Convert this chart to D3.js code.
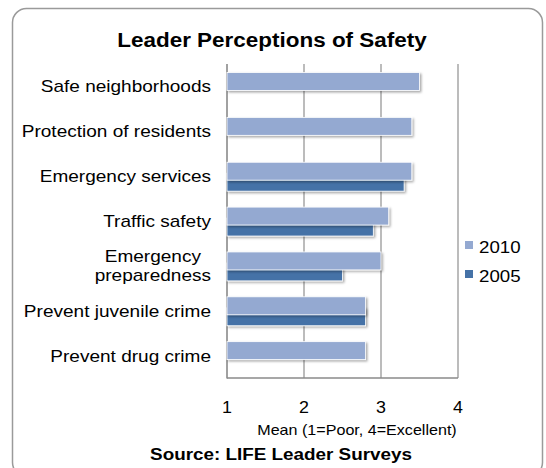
<!DOCTYPE html>
<html>
<head>
<meta charset="utf-8">
<script src="https://cdn.jsdelivr.net/npm/d3@7"></script>
<style>
  body { margin: 0; background: #fff; }
  text { font-family: "Liberation Sans", Arial, sans-serif; fill: #000; }
</style>
</head>
<body>
<div id="chart"></div>
<script>
// Chart data
var categories = ["Safe neighborhoods", "Protection of residents", "Emergency services",
    "Traffic safety", "Emergency\npreparedness", "Prevent juvenile crime", "Prevent drug crime"];
var values2010 = [3.5, 3.4, 3.4, 3.1, 3.0, 2.8, 2.8];
var values2005 = [null, null, 3.3, 2.9, 2.5, 2.8, null];
var seriesNames = ["2010", "2005"];
var xTicks = [1, 2, 3, 4];

var width = 546, height = 468;
var colors = {"2010": "#94a9d1", "2005": "#4572a7"};

var svg = d3.select("#chart").append("svg")
    .attr("width", width)
    .attr("height", height);

// the original text is rendered a bit wide, so stretch it horizontally
function wideText(parent, x, y, anchor, size, sx) {
    return parent.append("g")
        .attr("transform", "translate(" + x + "," + y + ") scale(" + sx + ",1)")
        .append("text")
        .attr("text-anchor", anchor)
        .style("font-size", size + "px");
}

// drop shadow for bars
var defs = svg.append("defs");
var filt = defs.append("filter").attr("id", "shadow")
    .attr("x", "-5%").attr("y", "-20%").attr("width", "115%").attr("height", "160%");
filt.append("feDropShadow")
    .attr("dx", 1.5).attr("dy", 1.5)
    .attr("stdDeviation", 0.8)
    .attr("flood-color", "#000")
    .attr("flood-opacity", 0.35);

// outer frame (bottom runs past the picture)
svg.append("rect")
    .attr("x", 12.5).attr("y", 8.5)
    .attr("width", 530).attr("height", 468)
    .attr("rx", 14).attr("ry", 14)
    .attr("fill", "#fff")
    .attr("stroke", "#9a9a9a")
    .attr("stroke-width", 1.5);

wideText(svg, 272, 47, "middle", 21, 1.07)
    .style("font-weight", "bold")
    .text("Leader Perceptions of Safety");

var x = d3.scaleLinear().domain([1, 4]).range([227, 458]);
var y = d3.scaleBand().domain(categories).range([64, 378]);
var bw = y.bandwidth();

// gridlines
svg.append("g").selectAll("line")
    .data(xTicks.slice(1))
    .enter().append("line")
    .attr("x1", function(d) { return x(d); })
    .attr("x2", function(d) { return x(d); })
    .attr("y1", 64).attr("y2", 378)
    .attr("stroke", "#8f8f8f")
    .attr("stroke-width", 1.2);

// axis lines
svg.append("line")
    .attr("x1", x(1)).attr("x2", x(1))
    .attr("y1", 64).attr("y2", 378.5)
    .attr("stroke", "#8a8a8a").attr("stroke-width", 1.6);
svg.append("line")
    .attr("x1", x(1)).attr("x2", x(4))
    .attr("y1", 378).attr("y2", 378)
    .attr("stroke", "#8a8a8a").attr("stroke-width", 1.6);

// bars: 2005 first, 2010 drawn over it
var bars = svg.append("g");
bars.selectAll("rect.s2005")
    .data(categories.map(function(c, i) { return {c: c, v: values2005[i]}; })
        .filter(function(d) { return d.v != null; }))
    .enter().append("rect")
    .attr("class", "s2005")
    .attr("x", x(1))
    .attr("y", function(d) { return y(d.c) + bw * 0.435; })
    .attr("width", function(d) { return x(d.v) - x(1); })
    .attr("height", bw * 0.4)
    .attr("fill", colors["2005"])
    .attr("stroke", "#fff").attr("stroke-width", 0.8)
    .attr("filter", "url(#shadow)");

bars.selectAll("rect.s2010")
    .data(categories.map(function(c, i) { return {c: c, v: values2010[i]}; }))
    .enter().append("rect")
    .attr("class", "s2010")
    .attr("x", x(1))
    .attr("y", function(d) { return y(d.c) + bw * 0.19; })
    .attr("width", function(d) { return x(d.v) - x(1); })
    .attr("height", bw * 0.4)
    .attr("fill", colors["2010"])
    .attr("stroke", "#fff").attr("stroke-width", 0.8)
    .attr("filter", "url(#shadow)");

// category labels, right aligned, multi-line blocks centred within themselves
var labelRight = 211;
categories.forEach(function(c) {
    var lines = c.split("\n");
    var lineH = 19;
    var cy = y(c) + bw / 2;
    var t = wideText(svg, labelRight, cy + 6, "middle", 17, 1.12);
    var spans = lines.map(function(l, i) {
        return t.append("tspan")
            .attr("y", (i - (lines.length - 1) / 2) * lineH)
            .text(l);
    });
    var w = d3.max(spans, function(s) { return s.node().getComputedTextLength(); });
    spans.forEach(function(s) { s.attr("x", -w / 2); });
});

// tick labels
xTicks.forEach(function(d) {
    wideText(svg, x(d), 413, "middle", 17, 1.05).text(d);
});

wideText(svg, 357, 435, "middle", 14, 1.15)
    .text("Mean (1=Poor, 4=Excellent)");

wideText(svg, 281, 460, "middle", 17, 1.11)
    .style("font-weight", "bold")
    .text("Source:  LIFE Leader Surveys");

// legend
var legend = svg.append("g").selectAll("g")
    .data(seriesNames)
    .enter().append("g")
    .attr("transform", function(d, i) { return "translate(465," + (241 + i * 29) + ")"; });
legend.append("rect")
    .attr("width", 8).attr("height", 8)
    .attr("fill", function(d) { return colors[d]; });
legend.each(function(d) {
    wideText(d3.select(this), 14, 12, "start", 17, 1.1).text(d);
});
</script>
</body>
</html>
